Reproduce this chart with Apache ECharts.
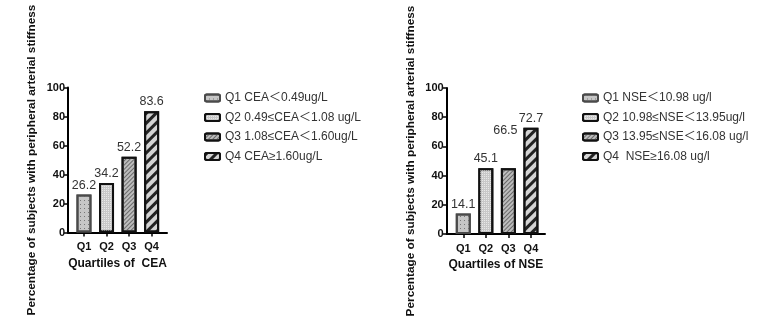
<!DOCTYPE html>
<html>
<head>
<meta charset="utf-8">
<script src="https://cdn.jsdelivr.net/npm/echarts@6/dist/echarts.min.js"></script>
<style>
html,body{margin:0;padding:0;background:#fff;}
#c{width:778px;height:323px;}
</style>
</head>
<body>
<div id="c"></div>
<script>
const categories = ['Q1', 'Q2', 'Q3', 'Q4'];
const ceaValues = [26.2, 34.2, 52.2, 83.6];
const nseValues = [14.1, 45.1, 45.1, 72.7];
const ceaLabels = ['26.2', '34.2', '52.2', '83.6'];
const nseLabels = ['14.1', '45.1', '66.5', '72.7'];
const ceaLegend = ['Q1 CEA\uFF1C0.49ug/L', 'Q2 0.49\u2264CEA\uFF1C1.08 ug/L', 'Q3 1.08\u2264CEA\uFF1C1.60ug/L', 'Q4 CEA\u22651.60ug/L'];
const nseLegend = ['Q1 NSE\uFF1C10.98 ug/l', 'Q2 10.98\u2264NSE\uFF1C13.95ug/l', 'Q3 13.95\u2264NSE\uFF1C16.08 ug/l', 'Q4  NSE\u226516.08 ug/l'];
const yMin = 0, yMax = 100, yInterval = 20;
const yName = 'Percentage of subjects with peripheral arterial stiffness';

const FONT = '"Liberation Sans", Arial, "Noto Sans CJK SC", sans-serif';

const styles = [
  { color: '#c6c6c6', borderColor: '#4a4a4a', decal: { symbol: 'rect', symbolSize: 1, dashArrayX: [1, 3], dashArrayY: [1, 3], color: '#777' } },
  { color: '#c8c8c8', borderColor: '#111', decal: { symbol: 'rect', symbolSize: 1, dashArrayX: [1, 1], dashArrayY: [1, 1], color: '#e8e8e8' } },
  { color: '#bdbdbd', borderColor: '#111', decal: { symbol: 'rect', symbolSize: 1, dashArrayX: [1, 0], dashArrayY: [1, 2], rotation: -Math.PI / 4, color: '#6a6a6a' } },
  { color: '#d4d4d4', borderColor: '#111', decal: { symbol: 'rect', symbolSize: 1, dashArrayX: [1, 0], dashArrayY: [3, 4], rotation: -Math.PI / 4, color: '#222' } }
];

function frameAxes(gridIndex, name) {
  return {
    x: {
      gridIndex: gridIndex, type: 'category', data: [''],
      axisLine: { show: true, lineStyle: { color: '#000', width: 2 } },
      axisTick: { show: false }, axisLabel: { show: false },
      name: name, nameLocation: 'middle', nameGap: 25,
      nameTextStyle: { fontFamily: FONT, fontSize: 12, fontWeight: 'bold', color: '#111' }
    },
    y: {
      gridIndex: gridIndex, type: 'value', min: yMin, max: yMax, interval: yInterval,
      axisLine: { show: true, lineStyle: { color: '#000', width: 2 } },
      axisTick: { show: true, length: 4, lineStyle: { color: '#000', width: 1.5 } },
      axisLabel: { margin: 3, fontFamily: FONT, fontSize: 11, fontWeight: 'bold', color: '#111' },
      splitLine: { show: false },
      name: yName, nameLocation: 'middle', nameGap: 30,
      nameTextStyle: { fontFamily: FONT, fontSize: 11.8, fontWeight: 'bold', color: '#111' }
    }
  };
}
function barAxes(gridIndex) {
  return {
    x: {
      gridIndex: gridIndex, type: 'category', data: categories,
      axisLine: { show: false },
      axisTick: { show: true, alignWithLabel: true, length: 4, lineStyle: { color: '#000', width: 1.5 } },
      axisLabel: { margin: 9, fontFamily: FONT, fontSize: 11, fontWeight: 'bold', color: '#111' }
    },
    y: { gridIndex: gridIndex, type: 'value', min: yMin, max: yMax, interval: yInterval, show: false }
  };
}

const fA = frameAxes(0, 'Quartiles of  CEA'), bA = barAxes(1);
const fB = frameAxes(2, 'Quartiles of NSE'), bB = barAxes(3);

function makeSeries(names, values, labels, xIdx, yIdx, labelOffsets) {
  return names.map(function (nm, i) {
    return {
      name: nm, type: 'bar', xAxisIndex: xIdx, yAxisIndex: yIdx,
      barWidth: 15, barGap: '-100%',
      itemStyle: { color: styles[i].color, borderColor: styles[i].borderColor, borderWidth: 2, decal: styles[i].decal },
      label: {
        show: true, position: 'top', distance: 3, offset: labelOffsets[i] || [0, 0],
        fontFamily: FONT, fontSize: 12.5, color: '#333',
        formatter: function () { return labels[i]; }
      },
      data: categories.map(function (c, j) { return j === i ? values[j] : '-'; })
    };
  });
}

const option = {
  animation: false,
  backgroundColor: '#fff',
  grid: [
    { left: 68, top: 87.5, width: 99, height: 145 },
    { left: 72.7, top: 87.5, width: 90.2, height: 145 },
    { left: 446.7, top: 88, width: 98.3, height: 146 },
    { left: 452, top: 88, width: 90.2, height: 146 }
  ],
  xAxis: [fA.x, bA.x, fB.x, bB.x],
  yAxis: [fA.y, bA.y, fB.y, bB.y],
  legend: [
    {
      data: ceaLegend, orient: 'vertical', left: 199, top: 86, itemWidth: 15, itemHeight: 7, itemGap: 5.5,
      textStyle: { fontFamily: FONT, fontSize: 12, color: '#333', lineHeight: 14 }, selectedMode: false
    },
    {
      data: nseLegend, orient: 'vertical', left: 577, top: 86, itemWidth: 15, itemHeight: 7, itemGap: 5.5,
      textStyle: { fontFamily: FONT, fontSize: 12, color: '#333', lineHeight: 14 }, selectedMode: false
    }
  ],
  series: [].concat(
    makeSeries(ceaLegend, ceaValues, ceaLabels, 1, 1, []),
    makeSeries(nseLegend, nseValues, nseLabels, 3, 3, [null, null, [-3, -28], null])
  )
};

const chart = echarts.init(document.getElementById('c'), null, { renderer: 'canvas' });
chart.setOption(option);
</script>
</body>
</html>
